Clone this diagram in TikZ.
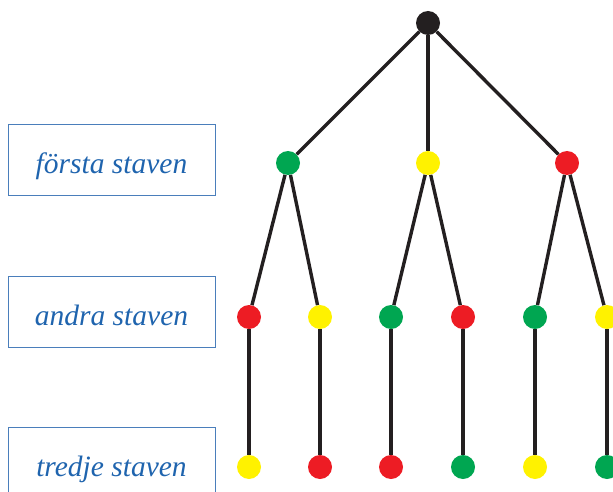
\documentclass[tikz,border=0pt]{standalone}
\usepackage{fontspec}
\setmainfont{Liberation Serif}
\definecolor{dotgreen}{HTML}{00A651}
\definecolor{dotyellow}{HTML}{FFF200}
\definecolor{dotred}{HTML}{ED1C24}
\definecolor{dotblack}{HTML}{231F20}
\definecolor{labelblue}{HTML}{1F64AE}
\definecolor{boxblue}{HTML}{4A7EBB}
\begin{document}
\begin{tikzpicture}[x=1pt,y=-1pt,
  dot/.style={circle,inner sep=0pt,minimum size=24pt,fill=#1},
  branch/.style={line width=3.4pt,draw=dotblack},
  stavbox/.style={draw=boxblue,line width=0.9pt,minimum width=207pt,minimum height=71pt,
    inner sep=0pt,text height=27pt,text depth=0pt,text=labelblue,
    font=\fontsize{29.5}{32}\selectfont\itshape}]
\useasboundingbox (0,0) rectangle (613,492);
% labels on the left
\node[stavbox] (s1) at (111.5,159.5) {första staven};
\node[stavbox] (s2) at (111.5,311.5) {andra staven};
\node[stavbox] (s3) at (111.5,462.5) {tredje staven};
% tree
\node[dot=dotblack] (r) at (428,23) {};
\node[dot=dotgreen] (a1) at (288,163) {};
\node[dot=dotyellow] (a2) at (428,163) {};
\node[dot=dotred] (a3) at (567,163) {};
\node[dot=dotred] (b1) at (249,317) {};
\node[dot=dotyellow] (b2) at (320,317) {};
\node[dot=dotgreen] (b3) at (391,317) {};
\node[dot=dotred] (b4) at (463,317) {};
\node[dot=dotgreen] (b5) at (535,317) {};
\node[dot=dotyellow] (b6) at (607,317) {};
\node[dot=dotyellow] (c1) at (249,467) {};
\node[dot=dotred] (c2) at (320,467) {};
\node[dot=dotred] (c3) at (391,467) {};
\node[dot=dotgreen] (c4) at (463,467) {};
\node[dot=dotyellow] (c5) at (535,467) {};
\node[dot=dotgreen] (c6) at (607,467) {};
% branches between the dots
\foreach \p/\c in {r/a1,r/a2,r/a3,a1/b1,a1/b2,a2/b3,a2/b4,a3/b5,a3/b6,
  b1/c1,b2/c2,b3/c3,b4/c4,b5/c5,b6/c6}
  \draw[branch] (\p) -- (\c);
\end{tikzpicture}
\end{document}
